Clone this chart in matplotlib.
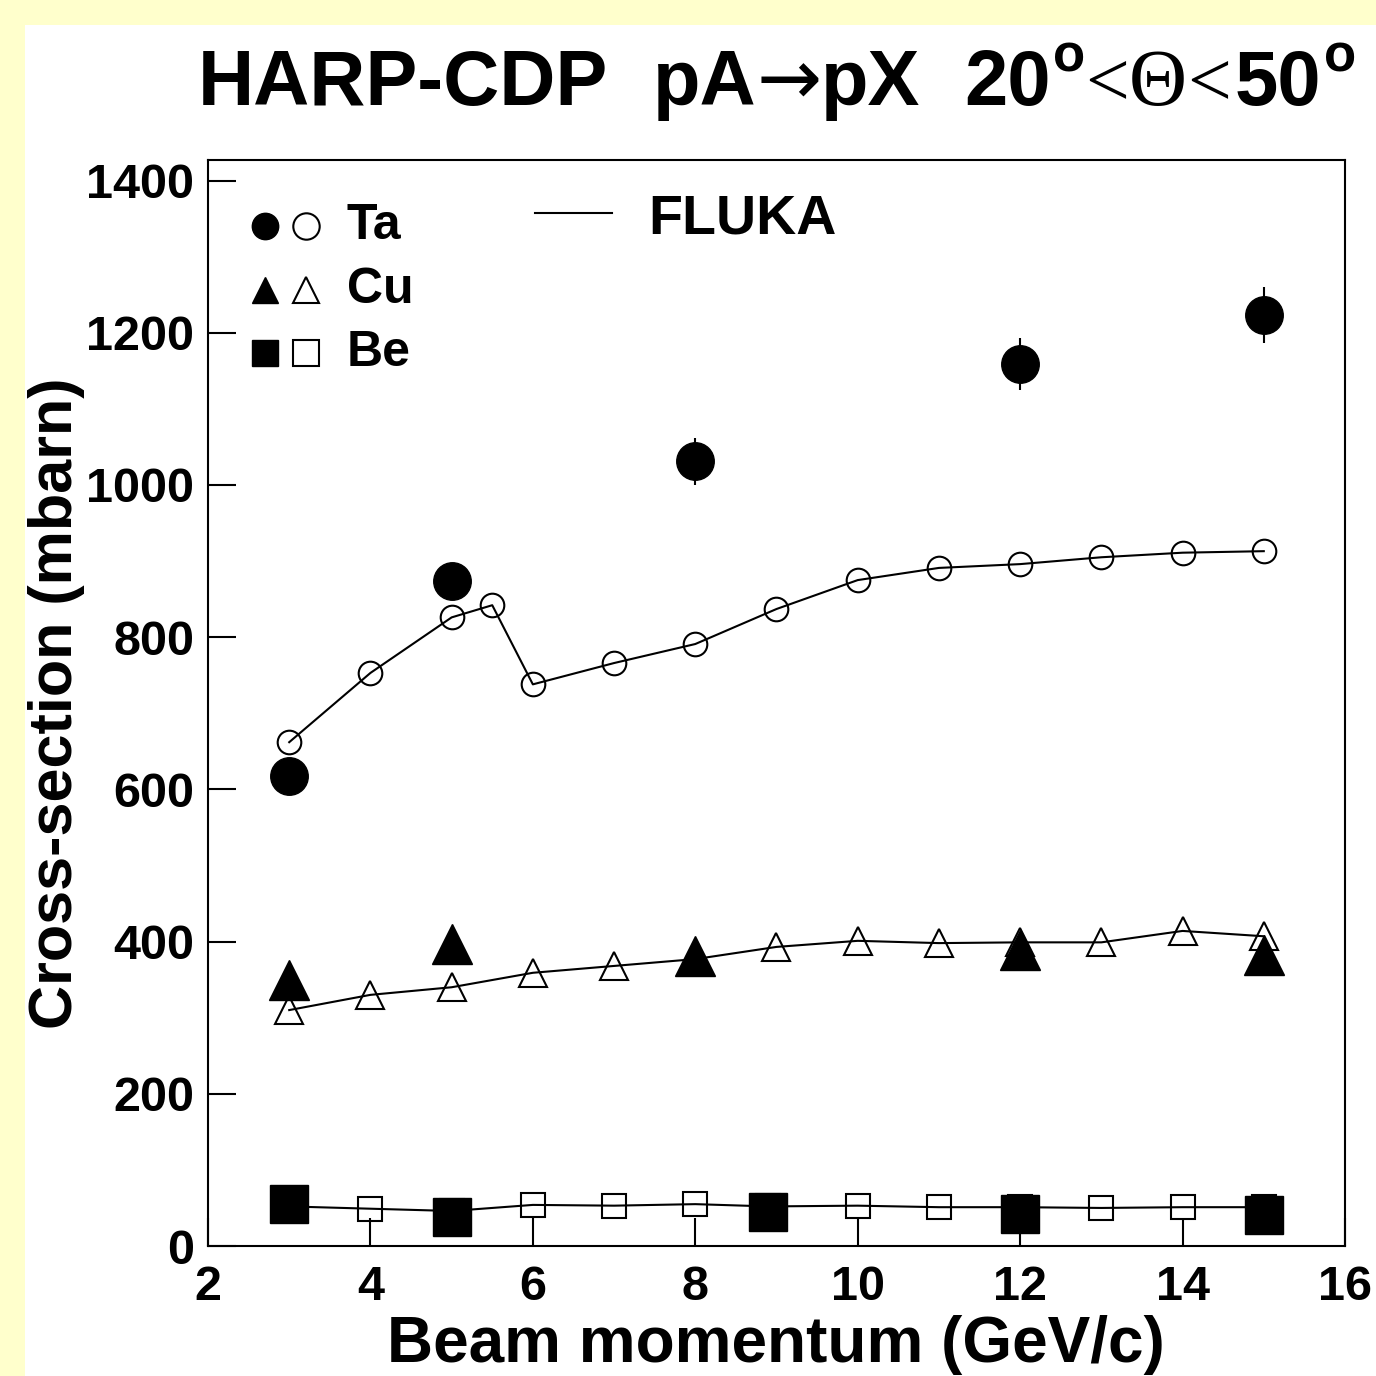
import matplotlib
matplotlib.use("Agg")
import matplotlib.pyplot as plt

plt.rcParams['font.family'] = ['Liberation Sans', 'DejaVu Sans']
plt.rcParams['font.weight'] = 'bold'

# measured data (filled symbols)
ta_p = [3, 5, 8, 12, 15]
ta_xs = [617, 874, 1031, 1159, 1223]
ta_err = [20, 22, 31, 34, 37]
cu_p = [3, 5, 8, 12, 15]
cu_xs = [350, 397, 381, 389, 382]
be_p = [3, 5, 8.9, 12, 15]
be_xs = [55, 38, 45, 42, 41]

# FLUKA predictions (open symbols + line)
fl_ta_p = [3, 4, 5, 5.5, 6, 7, 8, 9, 10, 11, 12, 13, 14, 15]
fl_ta = [662, 753, 826, 842, 738, 766, 791, 837, 875, 891, 896, 905, 911, 913]
fl_cu_p = [3, 4, 5, 6, 7, 8, 9, 10, 11, 12, 13, 14, 15]
fl_cu = [310, 330, 340, 359, 368, 377, 393, 401, 398, 399, 399, 414, 407]
fl_be_p = [3, 4, 5, 6, 7, 8, 8.9, 10, 11, 12, 13, 14, 15]
fl_be = [52, 49, 46, 54, 53, 55, 52, 53, 51, 51, 50, 51, 51]

W = 1376
fig = plt.figure(figsize=(13.76, 13.76), dpi=100)
fig.patch.set_facecolor('#ffffcc')
fig.patches.append(plt.Rectangle((25 / W, 0), 1, 1 - 25 / W, transform=fig.transFigure,
                                 facecolor='white', edgecolor='none', zorder=-5))

ax = fig.add_axes([208 / W, 130 / W, 1137 / W, 1086 / W])
ax.patch.set_alpha(0)
ax.set_xlim(2, 16)
ax.set_ylim(0, 1427)

lw = 1.5
# FLUKA curves
ax.plot(fl_ta_p, fl_ta, '-o', color='black', lw=lw, ms=17, mfc='none', mew=lw, zorder=3)
ax.plot(fl_cu_p, fl_cu, '-^', color='black', lw=lw, ms=20, mfc='none', mew=lw, zorder=3)
ax.plot(fl_be_p, fl_be, '-s', color='black', lw=lw, ms=17, mfc='none', mew=lw, zorder=3)

# data
ax.errorbar(ta_p, ta_xs, yerr=ta_err, fmt='o', color='black', ms=27, elinewidth=lw, capsize=0, zorder=4)
ax.plot(cu_p, cu_xs, '^', color='black', ms=29, ls='none', zorder=4)
ax.plot(be_p, be_xs, 's', color='black', ms=27, ls='none', zorder=4)

ax.set_xticks([2, 4, 6, 8, 10, 12, 14, 16])
ax.set_yticks([0, 200, 400, 600, 800, 1000, 1200, 1400])
ax.tick_params(direction='in', length=20, width=lw, labelsize=35, pad=10, top=False, right=False)
ax.tick_params(axis='x', pad=14)
for s in ax.spines.values():
    s.set_linewidth(lw)

# legend drawn by hand
rows = [(0.939, 'o', 'Ta'), (0.880, '^', 'Cu'), (0.822, 's', 'Be')]
for y, m, lab in rows:
    ax.plot([0.050], [y], m, color='black', ms=19, transform=ax.transAxes, clip_on=False)
    ax.plot([0.086], [y], m, color='black', ms=19, mfc='none', mew=lw, transform=ax.transAxes, clip_on=False)
    ax.text(0.122, y, lab, fontsize=36, fontweight='bold', va='center', transform=ax.transAxes)
ax.plot([0.288, 0.355], [0.951, 0.951], '-', color='black', lw=lw, transform=ax.transAxes)
ax.text(0.387, 0.945, 'FLUKA', fontsize=40, fontweight='bold', va='center', transform=ax.transAxes)

# title built from pieces: (text, size, family, weight, raise px, gap before px)
sans = ['Liberation Sans', 'DejaVu Sans']
serif = ['Liberation Serif', 'DejaVu Serif']
pieces = [
    ('HARP-CDP', 56, sans, 'bold', 0, 0),
    ('pA', 56, sans, 'bold', 0, 44),
    ('\u2192', 56, ['DejaVu Sans'], 'normal', 0, 0),
    ('pX', 56, sans, 'bold', 0, 0),
    ('20', 56, sans, 'bold', 0, 44),
    ('o', 38, sans, 'bold', 34, 2),
    ('<', 56, serif, 'normal', 0, 0),
    ('\u0398', 58, serif, 'normal', 0, 0),
    ('<', 56, serif, 'normal', 0, 0),
    ('50', 56, sans, 'bold', 0, 4),
    ('o', 38, sans, 'bold', 34, 2),
]
renderer = fig.canvas.get_renderer()
base_y = W - 105
texts = []
x = 0
for txt, size, fam, wt, up, gap in pieces:
    t = fig.text(0, 0, txt, fontsize=size, family=fam, fontweight=wt, ha='left', va='baseline',
                 transform=None)
    x += gap
    w = t.get_window_extent(renderer).width
    texts.append((t, x, up))
    x += w
x0 = 777 - x / 2
for t, xp, up in texts:
    t.set_position((x0 + xp, base_y + up))

fig.text(776 / W, 1 - 1345 / W, 'Beam momentum (GeV/c)', fontsize=46, fontweight='bold',
         ha='center', va='center')
fig.text(57 / W, 1 - 703 / W, 'Cross-section (mbarn)', fontsize=44, fontweight='bold',
         ha='center', va='center', rotation=90)

fig.savefig('out.png', dpi=100, facecolor=fig.get_facecolor())
